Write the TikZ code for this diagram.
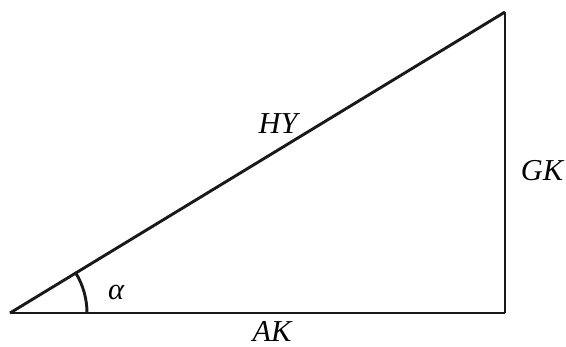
\documentclass[tikz,border=0pt]{standalone}
\usepackage{fontspec}
\setmainfont{Liberation Serif}
\usetikzlibrary{calc}
\tikzset{
  side/.style={line width=1.1pt, black!90},
  lbl/.style={font=\fontsize{11.5}{14}\selectfont\itshape, inner sep=0pt}
}
\begin{document}
\begin{tikzpicture}[x=0.0133cm, y=0.0133cm]
  \useasboundingbox (0,0) rectangle (566,346);

  %--- Vertices ---
  \coordinate (A) at (10,33);
  \coordinate (B) at (505,33);
  \coordinate (C) at (505,334);

  % Triangle sides
  \draw[side] (A) -- (B);
  \draw[side] (B) -- (C);
  \draw[side] (C) -- (A);

  % Angle arc
  \draw[side] ($(A)+(77,0)$) arc[start angle=0, end angle=31.3, radius=77];
  \node[lbl] (alpha) at (116,54) {α};

  % Labels
  \node[lbl] (hy) at (278,222) {HY};
  \node[lbl] (gk) at (542,175) {GK};
  \node[lbl] (ak) at (272,15) {AK};
\end{tikzpicture}
\end{document}
